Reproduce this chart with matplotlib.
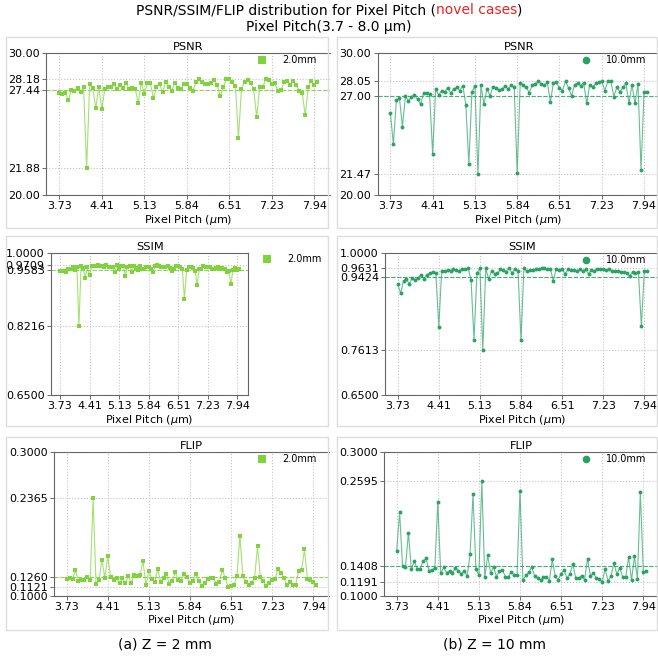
import matplotlib
matplotlib.use('Agg')
import matplotlib.pyplot as plt
from matplotlib.lines import Line2D
from matplotlib.patches import Rectangle
import numpy as np

# ---------------- data ----------------
pitch_labels = ['3.73', '4.41', '5.13', '5.84', '6.51', '7.23', '7.94']
tick_idx = [0, 14, 28, 42, 56, 70, 84]

psnr_2mm = [27.22, 27.13, 27.17, 26.73, 27.43, 27.36, 27.57, 27.24, 27.60, 21.88,
            27.83, 27.55, 26.11, 27.60, 26.07, 27.48, 27.64, 27.60, 27.83, 27.50,
            27.78, 27.53, 27.93, 27.48, 27.53, 27.50, 26.47, 27.93, 27.13, 27.88,
            27.88, 26.82, 27.64, 27.83, 27.24, 27.95, 27.64, 27.36, 27.88, 27.57,
            27.48, 27.81, 27.83, 27.57, 27.34, 27.95, 28.16, 28.00, 27.83, 27.81,
            27.88, 28.11, 27.76, 26.98, 27.60, 28.18, 28.17, 27.97, 27.69, 24.02,
            27.48, 28.00, 28.11, 27.88, 27.50, 25.48, 27.64, 27.60, 28.16, 28.11,
            27.81, 27.88, 27.34, 27.38, 27.95, 28.07, 27.76, 28.07, 27.76, 27.34,
            27.22, 25.62, 27.64, 28.04, 27.76, 27.95]

psnr_10mm = [25.81, 23.60, 26.68, 26.87, 24.82, 26.98, 26.63, 26.94, 27.06, 26.75,
             26.42, 27.17, 27.17, 27.13, 22.91, 27.45, 27.06, 27.36, 27.29, 27.57,
             27.17, 27.48, 27.60, 27.36, 27.71, 26.37, 22.18, 27.24, 27.71, 21.47,
             27.74, 26.42, 27.48, 27.01, 27.64, 27.57, 27.41, 27.48, 27.67, 27.50,
             27.74, 27.60, 21.57, 27.93, 27.78, 27.60, 27.22, 27.78, 27.83, 28.02,
             27.83, 27.74, 27.95, 26.56, 27.93, 27.97, 27.53, 27.36, 28.04, 27.55,
             26.98, 27.78, 27.88, 27.71, 27.93, 26.47, 27.76, 27.60, 27.88, 27.95,
             28.05, 27.36, 28.02, 28.02, 26.94, 27.60, 27.27, 27.60, 27.88, 26.47,
             27.78, 26.47, 27.83, 21.76, 27.27, 27.27]

ssim_2mm = [0.957, 0.956, 0.957, 0.954, 0.962, 0.960, 0.965, 0.958, 0.966, 0.8216,
            0.969, 0.963, 0.940, 0.965, 0.946, 0.968, 0.969, 0.968, 0.970, 0.968,
            0.969, 0.967, 0.9709, 0.966, 0.967, 0.966, 0.953, 0.970, 0.960, 0.969,
            0.969, 0.945, 0.966, 0.969, 0.955, 0.968, 0.964, 0.958, 0.968, 0.962,
            0.962, 0.966, 0.967, 0.961, 0.953, 0.968, 0.970, 0.969, 0.967, 0.966,
            0.967, 0.969, 0.964, 0.956, 0.962, 0.968, 0.968, 0.966, 0.961, 0.887,
            0.958, 0.967, 0.967, 0.964, 0.956, 0.922, 0.961, 0.960, 0.968, 0.967,
            0.965, 0.965, 0.962, 0.960, 0.964, 0.966, 0.960, 0.964, 0.961, 0.955,
            0.957, 0.924, 0.958, 0.963, 0.959, 0.962]

ssim_10mm = [0.925, 0.901, 0.932, 0.936, 0.924, 0.940, 0.934, 0.940, 0.946, 0.937,
             0.946, 0.952, 0.953, 0.952, 0.819, 0.957, 0.956, 0.958, 0.957, 0.960,
             0.958, 0.957, 0.962, 0.960, 0.963, 0.934, 0.786, 0.952, 0.963, 0.7613,
             0.963, 0.936, 0.957, 0.950, 0.951, 0.960, 0.958, 0.955, 0.963, 0.951,
             0.962, 0.956, 0.785, 0.963, 0.956, 0.959, 0.959, 0.960, 0.962, 0.9631,
             0.963, 0.962, 0.962, 0.932, 0.962, 0.959, 0.962, 0.949, 0.960, 0.959,
             0.958, 0.957, 0.960, 0.956, 0.961, 0.949, 0.959, 0.956, 0.962, 0.960,
             0.960, 0.959, 0.960, 0.957, 0.956, 0.956, 0.954, 0.954, 0.951, 0.944,
             0.954, 0.951, 0.954, 0.820, 0.956, 0.956]

flip_2mm = [0.1227, 0.1246, 0.1232, 0.1353, 0.1204, 0.1218, 0.1214, 0.1255, 0.1214, 0.2365,
            0.1162, 0.1214, 0.1502, 0.1251, 0.1548, 0.1255, 0.1214, 0.1241, 0.1176, 0.1241,
            0.1172, 0.1269, 0.1172, 0.1293, 0.1274, 0.1293, 0.1479, 0.1144, 0.1348, 0.1227,
            0.1186, 0.1376, 0.1190, 0.1241, 0.1297, 0.1158, 0.1209, 0.1325, 0.1214, 0.1209,
            0.1307, 0.1260, 0.1172, 0.1209, 0.1307, 0.1200, 0.1134, 0.1181, 0.1227, 0.1246,
            0.1246, 0.1158, 0.1190, 0.1358, 0.1251, 0.1121, 0.1134, 0.1153, 0.1274, 0.1837,
            0.1279, 0.1190, 0.1153, 0.1172, 0.1246, 0.1688, 0.1255, 0.1204, 0.1134, 0.1172,
            0.1223, 0.1237, 0.1376, 0.1321, 0.1246, 0.1153, 0.1190, 0.1153, 0.1153, 0.1339,
            0.1353, 0.1646, 0.1237, 0.1214, 0.1186, 0.1148]

flip_10mm = [0.1627, 0.2162, 0.1409, 0.1400, 0.1879, 0.1367, 0.1483, 0.1376, 0.1376, 0.1483,
             0.1520, 0.1348, 0.1358, 0.1386, 0.2307, 0.1311, 0.1395, 0.1320, 0.1348, 0.1311,
             0.1390, 0.1348, 0.1306, 0.1344, 0.1274, 0.1576, 0.2413, 0.1367, 0.1288, 0.2595,
             0.1255, 0.1562, 0.1316, 0.1404, 0.1265, 0.1344, 0.1362, 0.1265, 0.1265, 0.1330,
             0.1288, 0.1293, 0.2465, 0.1218, 0.1283, 0.1325, 0.1400, 0.1274, 0.1251, 0.1218,
             0.1255, 0.1265, 0.1209, 0.1506, 0.1274, 0.1218, 0.1306, 0.1358, 0.1241, 0.1302,
             0.1446, 0.1241, 0.1241, 0.1279, 0.1218, 0.1516, 0.1274, 0.1316, 0.1246, 0.1237,
             0.1191, 0.1372, 0.1204, 0.1274, 0.1455, 0.1297, 0.1390, 0.1255, 0.1255, 0.1539,
             0.1218, 0.1553, 0.1232, 0.2446, 0.1325, 0.1348]

# y ticks: [lower limit, min, mean, max, upper limit]
psnr_2mm_ticks = [20.00, 21.88, 27.44, 28.18, 30.00]
psnr_10mm_ticks = [20.00, 21.47, 27.00, 28.05, 30.00]
ssim_2mm_ticks = [0.6500, 0.8216, 0.9583, 0.9709, 1.0000]
ssim_10mm_ticks = [0.6500, 0.7613, 0.9424, 0.9631, 1.0000]
flip_2mm_ticks = [0.1000, 0.1121, 0.1260, 0.2365, 0.3000]
flip_10mm_ticks = [0.1000, 0.1191, 0.1408, 0.2595, 0.3000]

# ---------------- figure ----------------
W = H = 658
fig = plt.figure(figsize=(6.58, 6.58), dpi=100)
fig.patch.set_facecolor('white')

C2 = '#80d33c'
C10 = '#2aa266'


def add_ax(x0, y0, x1, y1):
    return fig.add_axes([x0 / W, 1 - y1 / H, (x1 - x0) / W, (y1 - y0) / H])


def panel(ax, vals, color, marker, ms, ticks, fmt, mean_idx, title, label,
          leg_xy, hide_right):
    x = np.arange(len(vals))
    ax.plot(x, vals, color=color, lw=0.8, alpha=0.7, zorder=3)
    ax.plot(x, vals, ls='none', marker=marker, ms=ms, color=color, mew=0, zorder=4)
    ax.axhline(ticks[mean_idx], color=color, ls='--', lw=0.8, alpha=0.85, zorder=2)
    ax.set_xlim(-4.25, 89.25)
    ax.set_ylim(ticks[0], ticks[-1])
    ax.set_xticks(tick_idx)
    ax.set_xticklabels(pitch_labels)
    ax.set_yticks(ticks)
    ax.set_yticklabels([fmt % v for v in ticks])
    ax.grid(True, ls=':', color='#c4c4c4', lw=0.8, zorder=0)
    ax.set_axisbelow(True)
    ax.set_title(title, fontsize=8.2, pad=2.5)
    ax.set_xlabel('Pixel Pitch ($\\mu$m)', fontsize=8, labelpad=1)
    ax.tick_params(labelsize=8, length=3, width=0.6, pad=1.5, color='#555555')
    for s in ax.spines.values():
        s.set_color('#666666')
        s.set_linewidth(0.8)
    if hide_right:
        ax.spines['right'].set_visible(False)
    h = Line2D([], [], ls='none', marker=marker, ms=5.5, color=color, mew=0)
    ax.legend([h], [label], loc='center left',
              bbox_to_anchor=((leg_xy[0] - 5) / W, 1 - leg_xy[1] / H),
              bbox_transform=fig.transFigure, frameon=False, fontsize=7,
              handlelength=1.0, handletextpad=1.6, borderpad=0, borderaxespad=0)


# panel boxes
for (x0, y0, x1, y1) in [(6, 37, 328, 228), (337, 37, 657, 228),
                         (6, 236, 328, 426), (337, 236, 657, 426),
                         (6, 437, 328, 630), (337, 437, 657, 630)]:
    fig.add_artist(Rectangle((x0 / W, 1 - y1 / H), (x1 - x0) / W, (y1 - y0) / H,
                             transform=fig.transFigure, fill=False,
                             ec='#dddddd', lw=1.0, zorder=10))

ax1 = add_ax(46.4, 53.3, 330.3, 195)
panel(ax1, psnr_2mm, C2, 's', 2.8, psnr_2mm_ticks, '%.2f', 2, 'PSNR', '2.0mm',
      (262, 60), True)
ax2 = add_ax(377.5, 53.3, 659.9, 195)
panel(ax2, psnr_10mm, C10, 'o', 2.8, psnr_10mm_ticks, '%.2f', 2, 'PSNR', '10.0mm',
      (586, 60), True)
ax3 = add_ax(51, 253.3, 248.3, 395)
panel(ax3, ssim_2mm, C2, 's', 2.8, ssim_2mm_ticks, '%.4f', 2, 'SSIM', '2.0mm',
      (267, 259), False)
ax4 = add_ax(385.2, 253.3, 659.7, 395)
panel(ax4, ssim_10mm, C10, 'o', 2.8, ssim_10mm_ticks, '%.4f', 2, 'SSIM', '10.0mm',
      (586, 260), True)
ax5 = add_ax(54.2, 452.3, 328.7, 595.7)
panel(ax5, flip_2mm, C2, 's', 2.8, flip_2mm_ticks, '%.4f', 2, 'FLIP', '2.0mm',
      (262, 459), True)
ax6 = add_ax(384.2, 452.3, 658.7, 595.7)
panel(ax6, flip_10mm, C10, 'o', 2.8, flip_10mm_ticks, '%.4f', 2, 'FLIP', '10.0mm',
      (586, 459), True)

# ---------------- titles ----------------
renderer = fig.canvas.get_renderer()
parts = [('PSNR/SSIM/FLIP distribution for Pixel Pitch (', 'black'),
         ('novel cases', '#ee2222'), (')', 'black')]
texts = []
for s, c in parts:
    t = fig.text(0, 1 - 10 / H, s, color=c, fontsize=10, va='center', ha='left')
    texts.append(t)
widths = [t.get_window_extent(renderer).width for t in texts]
x = (W - sum(widths)) / 2
for t, w in zip(texts, widths):
    t.set_x(x / W)
    x += w
fig.text(0.5, 1 - 27 / H, 'Pixel Pitch(3.7 - 8.0 \u03bcm)', fontsize=10,
         ha='center', va='center')

fig.text(165 / W, 1 - 645 / H, '(a) Z = 2 mm', fontsize=10, ha='center', va='center')
fig.text(495 / W, 1 - 645 / H, '(b) Z = 10 mm', fontsize=10, ha='center', va='center')

fig.savefig('out.png', dpi=100)
